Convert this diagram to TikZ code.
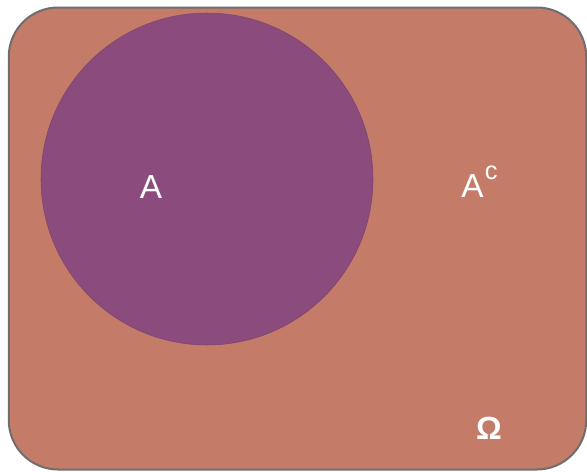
\documentclass[tikz,border=0pt]{standalone}
\usepackage{fontspec}
\setmainfont{Liberation Sans}
\definecolor{terra}{RGB}{196,123,104}
\definecolor{plum}{RGB}{139,75,124}
\definecolor{rim}{RGB}{110,110,110}
\begin{document}
\begin{tikzpicture}[x=0.75pt,y=-0.75pt,
  lbl/.style={text=white,font=\fontsize{25}{28}\selectfont,inner sep=0pt}]
\useasboundingbox (0,0) rectangle (587,472);
\node[draw=rim,line width=1.5pt,fill=terra,rounded corners=37pt,
  minimum width=577.5*0.75pt,minimum height=462*0.75pt,inner sep=0pt] (omega) at (297.5,238.5) {};
\node[circle,fill=plum,draw=plum!90!black,line width=0.4pt,minimum size=332*0.75pt,inner sep=0pt] (setA) at (207,179) {};
\node[lbl] (la) at (151,187) {A};
\node[lbl,anchor=base west] (lac) at (461,197) {A\kern1pt\raisebox{13.5pt}{\fontsize{19}{21}\selectfont c}};
\node[lbl,font=\bfseries\fontsize{24}{28}\selectfont] (lo) at (489,428) {Ω};
\end{tikzpicture}
\end{document}
